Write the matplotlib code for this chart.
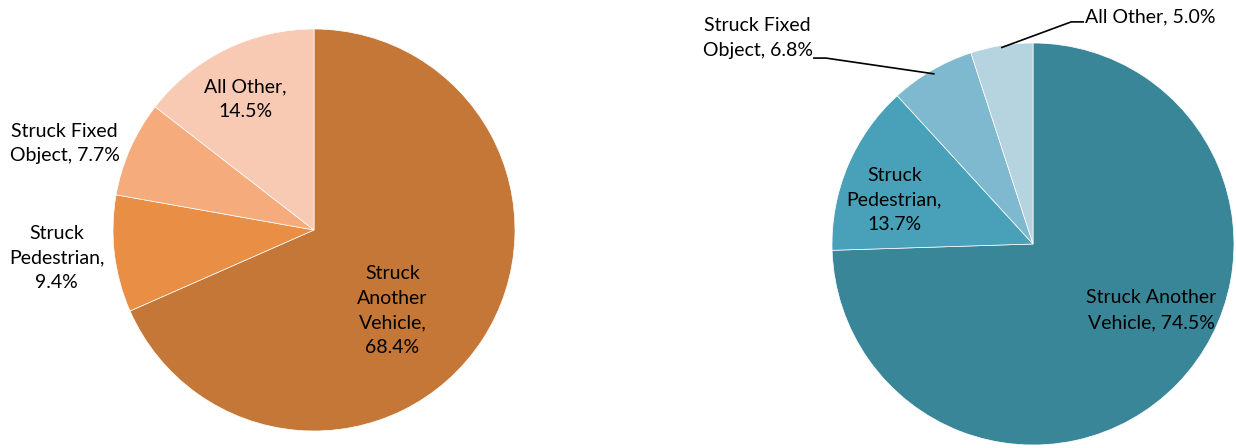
import matplotlib
matplotlib.use("Agg")
import matplotlib.pyplot as plt
import numpy as np

plt.rcParams['font.family'] = ['Lato', 'DejaVu Sans']

categories = ["Struck Another Vehicle", "Struck Pedestrian", "Struck Fixed Object", "All Other"]
left_values = [68.4, 9.4, 7.7, 14.5]
right_values = [74.5, 13.7, 6.8, 5.0]

left_colors = ["#C47736", "#E88E45", "#F6AB7C", "#F8CAB3"]
right_colors = ["#3A8699", "#48A1B8", "#7EB9CF", "#B5D4DF"]

W, H = 1236, 448
fig = plt.figure(figsize=(W / 100, H / 100), dpi=100)

# axes placed in pixel boxes (pie fills the box)
ax_l = fig.add_axes([113 / W, (H - 431) / H, 402 / W, 402 / H])
ax_r = fig.add_axes([832 / W, (H - 445) / H, 402 / W, 402 / H])

wp = dict(edgecolor="white", linewidth=0.5)
for ax, vals, cols in [(ax_l, left_values, left_colors), (ax_r, right_values, right_colors)]:
    ax.pie(vals, colors=cols, startangle=90, counterclock=False, wedgeprops=wp, radius=1)
    ax.set_xlim(-1, 1)
    ax.set_ylim(-1, 1)
    ax.set_aspect("equal")
    ax.axis("off")


def mid_angle(vals, i):
    start = sum(vals[:i])
    frac = (start + vals[i] / 2) / sum(vals)
    return np.deg2rad(90 - frac * 360)


fs = 14
ls = 1.55
kw = dict(ha="center", va="center", fontsize=fs, linespacing=ls, clip_on=False)

# left pie labels
ax_l.text(0.39, -0.40, f"Struck\nAnother\nVehicle,\n{left_values[0]}%", **kw)
ax_l.text(-1.28, -0.14, f"Struck\nPedestrian,\n{left_values[1]}%", **kw)
ax_l.text(-1.24, 0.43, f"Struck Fixed\nObject, {left_values[2]}%", **kw)
ax_l.text(-0.34, 0.65, f"All Other,\n{left_values[3]}%", **kw)

# right pie labels
ax_r.text(0.59, -0.33, f"Struck Another\nVehicle, {right_values[0]}%", **kw)
ax_r.text(-0.69, 0.22, f"Struck\nPedestrian,\n{right_values[1]}%", **kw)

# leader-line labels
a = mid_angle(right_values, 2)
ax_r.text(-1.37, 1.025, f"Struck Fixed\nObject, {right_values[2]}%", **kw)
ax_r.plot([-1.09, -1.03, np.cos(a) * 0.98], [0.925, 0.925, np.sin(a) * 0.98],
          color="black", lw=1.2, clip_on=False)

a = mid_angle(right_values, 3)
ax_r.text(0.26, 1.13, f"All Other, {right_values[3]}%", ha="left", va="center",
          fontsize=fs, clip_on=False)
ax_r.plot([0.25, 0.19, np.cos(a) * 0.99], [1.105, 1.105, np.sin(a) * 0.99],
          color="black", lw=1.2, clip_on=False)

fig.savefig("out.png", dpi=100, facecolor="white")
